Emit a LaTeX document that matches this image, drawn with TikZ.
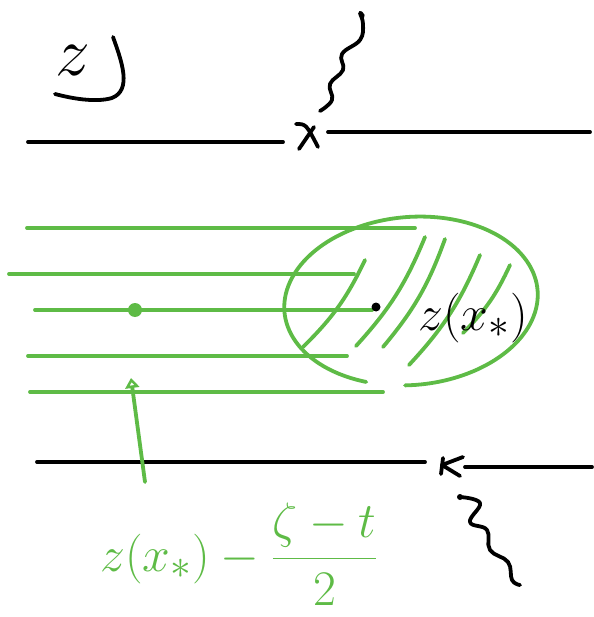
\documentclass[tikz,border=0pt]{standalone}
\usepackage{graphicx}
\usepackage{tikz}
\usetikzlibrary{arrows.meta}
\definecolor{pen}{RGB}{94,187,70}
\begin{document}
\begin{tikzpicture}[x=1pt,y=-1pt, line cap=round, line join=round,
  ink/.style={line width=3.8pt, black},
  grn/.style={line width=3.8pt, pen},
  big/.style={font=\Huge, inner sep=0pt}]
\useasboundingbox (0,0) rectangle (593,617);

% plane label
\node[big, anchor=base] (zlab) at (73,76) {\scalebox{2.8}{$z$}};
\draw[ink] (113,37) .. controls (122,62) and (132,90) .. (112,98) .. controls (95,103) and (70,98) .. (55,94);

% top cut
\draw[ink] (28,142) -- (283,142);
\draw[ink] (328,132) -- (590,132);
\draw[ink] (296,124) .. controls (306,124) .. (318,147);
\draw[ink] (314,127) -- (299,149);
\draw[ink] plot[smooth, tension=0.7] coordinates {(320,111) (332,100) (330,84) (343,70) (342,54) (360,40) (363,24) (360,13) (363,16)};

% bottom cut
\draw[ink] (37,462) -- (425,462);
\draw[ink] (465,467) -- (592,467);
\draw[ink] (463,457) -- (442,465) -- (460,476);
\draw[ink] (443,458) -- (441,474);
\fill (460,497) circle (3pt);
\draw[ink] plot[smooth, tension=0.7] coordinates {(460,497) (480,503) (470,522) (487,530) (490,550) (508,562) (512,580) (520,585)};

% green horizontal lines
\draw[grn] (27,228) -- (415,228);
\draw[grn] (9,274) -- (354,274);
\draw[grn] (35,310) -- (372,310);
\draw[grn] (28,356) -- (347,356);
\draw[grn] (30,392) -- (383,392);
\fill[pen] (135,310) circle (7pt);

% ellipse (open at the bottom)
\begin{scope}[shift={(411,301)}, rotate=5]
  \draw[grn] (114:127 and 84) arc[start angle=114, end angle=456, x radius=127, y radius=84];
\end{scope}

% hatching
\draw[grn] (303,347) to[bend right=10] (365,260);
\draw[grn] (356,346) to[bend right=10] (425,237);
\draw[grn] (383,347) to[bend right=10] (445,239);
\draw[grn] (409,365) to[bend right=10] (480,255);
\draw[grn] (463,333) to[bend right=10] (510,265);

% point z(x_*)
\fill (376,307) circle (4.5pt);
\node[big, anchor=base west] (zx) at (418,330) {\scalebox{2}{$z(x_*)$}};

% green formula and arrow
\node[big, text=pen, anchor=base west] (formula) at (100,571) {\scalebox{2}{$\displaystyle z(x_*) - \frac{\zeta-t}{2}$}};
\coordinate (tail) at (145,482);
\coordinate (tip) at (131,378);
\draw[grn, -{Triangle[open, length=10pt, width=14pt]}] (tail) -- (tip);
\end{tikzpicture}
\end{document}
